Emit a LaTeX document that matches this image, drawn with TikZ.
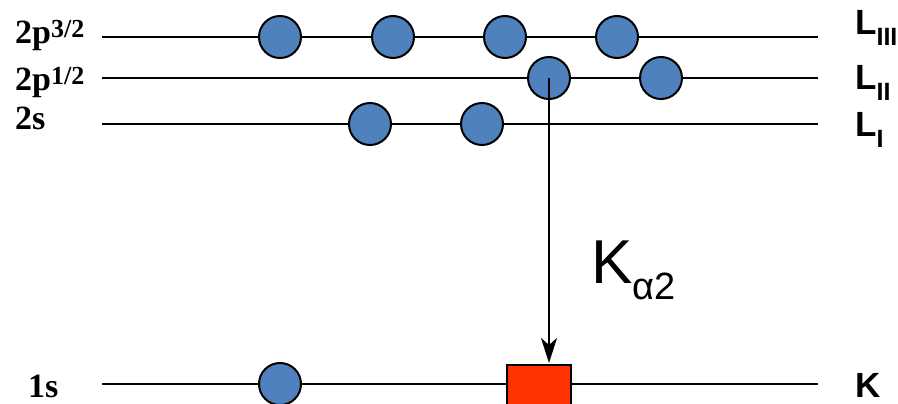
\documentclass[tikz,border=0pt]{standalone}
\usepackage{fontspec}
\setmainfont{Liberation Serif}
\newfontfamily\labsans{Liberation Sans}
\usetikzlibrary{arrows.meta}
\definecolor{electron}{HTML}{4F81BD}
\definecolor{hole}{HTML}{FF3300}
\tikzset{
  level/.style={line width=2pt},
  electron/.style={circle, draw=black, line width=2pt, fill=electron, minimum size=42pt, inner sep=0pt},
  vacancy/.style={rectangle, draw=black, line width=2pt, fill=hole, minimum width=64pt, minimum height=40pt, inner sep=0pt},
  shell/.style={font=\bfseries\fontsize{34}{40}\selectfont, inner sep=0pt, anchor=base west},
  subshell/.style={font=\labsans\bfseries\fontsize{35}{40}\selectfont, inner sep=0pt, anchor=base west},
  transition/.style={line width=2pt, -{Stealth[length=25pt,width=16pt,inset=7pt]}}
}
\newcommand{\sfsub}[1]{\raisebox{-11pt}{\fontsize{25}{27}\selectfont #1}}
\newcommand{\spin}[1]{\raisebox{6pt}{\fontsize{26}{28}\selectfont #1}}
\begin{document}
\begin{tikzpicture}[x=1pt,y=-1pt]
\useasboundingbox (0,0) rectangle (898,404);

% energy levels
\coordinate (l3a) at (102,37);  \coordinate (l3b) at (818,37);
\coordinate (l2a) at (102,78);  \coordinate (l2b) at (818,78);
\coordinate (l1a) at (102,124); \coordinate (l1b) at (818,124);
\coordinate (ka)  at (102,384); \coordinate (kb)  at (818,384);
\draw[level] (l3a) -- (l3b);
\draw[level] (l2a) -- (l2b);
\draw[level] (l1a) -- (l1b);
\draw[level] (ka) -- (kb);

% subshell names on the left
\node[shell] (n2p3) at (15,44) {2p\spin{3/2}};
\node[shell] (n2p1) at (15,91) {2p\spin{1/2}};
\node[shell] (n2s)  at (15,129) {2s};
\node[shell] (n1s)  at (28,397) {1s};

% edge names on the right
\node[subshell] (lIII) at (855,35)  {L\sfsub{III}};
\node[subshell] (lII)  at (855,89)  {L\sfsub{II}};
\node[subshell] (lI)   at (855,136) {L\sfsub{I}};
\node[subshell] (kk)   at (855,397) {K};

% electrons
\node[electron] (e1) at (280,37) {};
\node[electron] (e2) at (393,37) {};
\node[electron] (e3) at (505,37) {};
\node[electron] (e4) at (617,37) {};
\node[electron] (e5) at (549,78) {};
\node[electron] (e6) at (661,78) {};
\node[electron] (e7) at (370,124) {};
\node[electron] (e8) at (482,124) {};
\node[electron] (e9) at (280,384) {};

% vacancy in the K shell
\node[vacancy, anchor=north] (hole) at (538.5,364) {};

% transition
\coordinate (tip) at (549,363);
\draw[transition] (e5.center) -- (tip);
\node[font=\labsans\fontsize{62}{66}\selectfont, inner sep=0pt, anchor=base west] (ka2) at (591,283)
  {K\raisebox{-16pt}{\fontsize{38}{40}\selectfont α2}};
\end{tikzpicture}
\end{document}
